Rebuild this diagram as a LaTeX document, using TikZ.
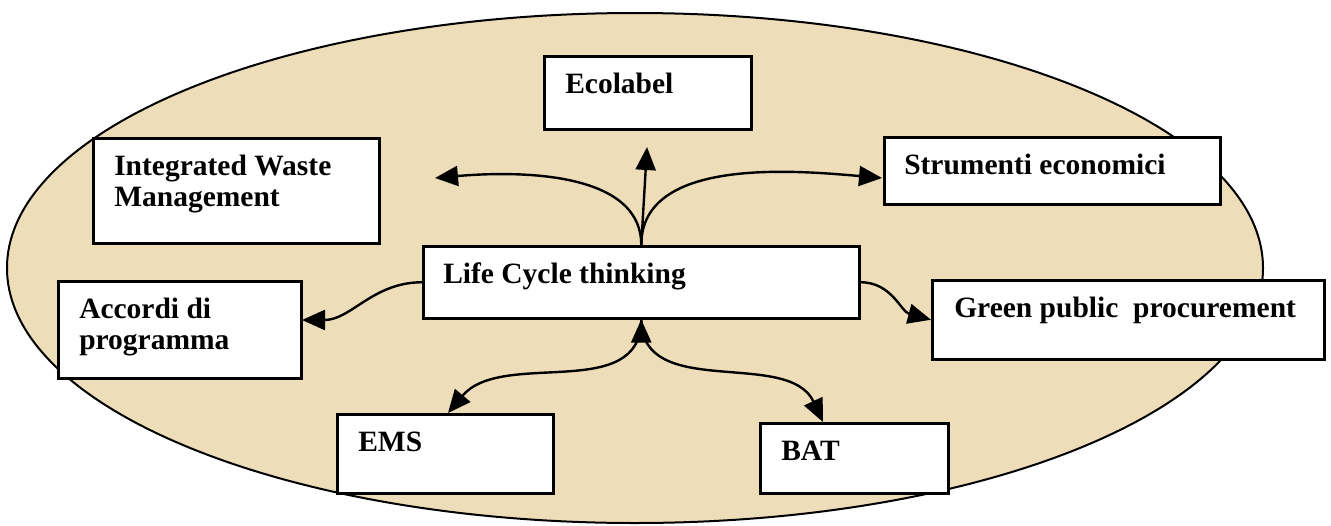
\documentclass[tikz,border=0pt]{standalone}
\usepackage{fontspec}
\setmainfont{Liberation Serif}
\usepackage{xcolor}
\definecolor{parch}{RGB}{237,221,185}
\usepackage{tikz}
\usetikzlibrary{arrows.meta,positioning}
\newcommand{\celltext}[4]{\parbox[c][#2][t]{#1}{\raggedright\leftskip=#3\relax\rule{0pt}{37pt}#4}}
\tikzset{
  halo/.style={draw=black,fill=parch,line width=2pt},
  box/.style={rectangle,draw=black,fill=white,line width=2.5pt,inner sep=0pt,anchor=north west,
    font=\fontsize{29.5}{31}\selectfont\bfseries},
  line/.style={draw,line width=2.4pt,-{Triangle[length=23pt,width=20pt]}},
}
\begin{document}
\begin{tikzpicture}[x=1pt,y=-1pt]
   \useasboundingbox (0,0) rectangle (1331,525);
   \draw[halo] (635,268) ellipse [x radius=628pt, y radius=255pt];

   \node[box] (ec) at (543,55) {\celltext{207pt}{73pt}{21pt}{Ecolabel}};
   \node[box] (iwm) at (92,137) {\celltext{286pt}{105pt}{21pt}{Integrated Waste\\Management}};
   \node[box] (se) at (883,136) {\celltext{336pt}{67pt}{20pt}{Strumenti economici}};
   \node[box] (lct) at (422,245) {\celltext{436pt}{72pt}{20pt}{Life Cycle thinking}};
   \node[box] (ac) at (57,280) {\celltext{243pt}{97pt}{21pt}{Accordi di\\programma}};
   \node[box] (gpp) at (931,279) {\celltext{392pt}{79pt}{22pt}{Green public\ \ procurement}};
   \node[box] (ems) at (336,413) {\celltext{216pt}{79pt}{21pt}{EMS}};
   \node[box] (bat) at (759,422) {\celltext{188pt}{70pt}{21pt}{BAT}};

   \coordinate (iwm-in) at (435,178);
   \coordinate (ec-in) at (647,147);
   \coordinate (se-in) at (882,178);
   \coordinate (ac-in) at (302,320);
   \coordinate (ems-in) at (448,413);
   \coordinate (bat-in) at (823,422);

  \path[line]
    (lct.north) edge [out=90,in=5,looseness=0.9] (iwm-in)
                edge (ec-in)
                edge [out=90,in=175,looseness=0.9] (se-in)
    (lct.west) edge [out=180,in=0] (ac-in)
    (lct.east) edge [out=0,in=165] (gpp.west)
    (lct.south) edge [out=-90,in=50] (ems-in)
                edge [out=-90,in=115] (bat-in);
\end{tikzpicture}
\end{document}
